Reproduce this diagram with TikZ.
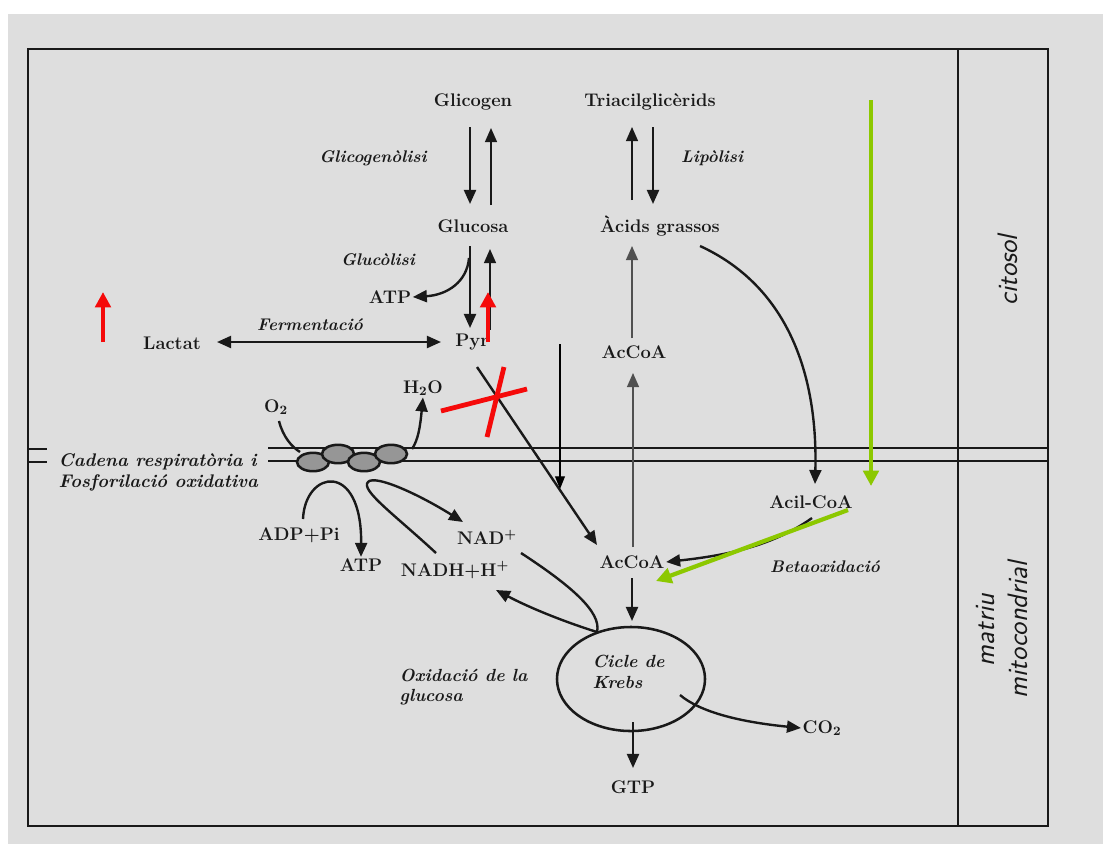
\documentclass[tikz,border=0pt]{standalone}
\usetikzlibrary{arrows.meta,shapes.geometric}
\definecolor{bg}{RGB}{222,222,222}
\definecolor{ink}{RGB}{25,25,25}
\definecolor{midgray}{RGB}{80,80,80}
\definecolor{cellfill}{RGB}{150,150,150}
\definecolor{redmark}{RGB}{245,10,10}
\definecolor{greenmark}{RGB}{140,200,0}
\begin{document}
\begin{tikzpicture}[x=0.025cm,y=-0.025cm,
  lbl/.style={font=\fontsize{13}{15}\selectfont\bfseries, text=ink, inner sep=1pt},
  itl/.style={font=\fontsize{12}{14}\selectfont\bfseries\itshape, text=ink, inner sep=1pt},
  side/.style={font=\fontsize{20}{24}\selectfont\sffamily\itshape, text=ink, rotate=90, align=center, inner sep=0pt},
  arr/.style={draw=ink, line width=1.7pt, -{Triangle[length=10pt,width=8.5pt]}},
  larr/.style={draw=ink, line width=1.1pt, -{Triangle[length=10pt,width=8.5pt]}},
  garr/.style={draw=midgray, line width=1.1pt, -{Triangle[length=10pt,width=8.5pt]}},
  plain/.style={draw=ink, line width=1.7pt},
  thinarr/.style={draw=black, line width=0.9pt, -{Triangle[length=9pt,width=7pt]}},
  redarr/.style={draw=redmark, line width=3.4pt, -{Triangle[length=11pt,width=11pt]}},
  redline/.style={draw=redmark, line width=3.4pt},
  greenarr/.style={draw=greenmark, line width=3pt, -{Triangle[length=11pt,width=11pt]}},
  frame/.style={draw=ink, line width=1.8pt},
  cell/.style={draw=ink, line width=1.8pt, fill=cellfill}
]
\useasboundingbox (0,0) rectangle (1103,844);
\fill[white] (0,0) rectangle (1103,844);
\fill[bg] (8,14) rectangle (1103,844);

% frame
\draw[frame] (28,49) rectangle (1048,826);
\draw[draw=ink, line width=1.1pt] (958,49) -- (958,826);

% membrane
\draw[frame] (268,448) -- (1048,448);
\draw[frame] (268,461) -- (1048,461);
\draw[frame] (28,449) -- (47,449);
\draw[frame] (28,462) -- (47,462);

% text nodes
\node[lbl] (glicogen) at (473,102) {Glicogen};
\node[lbl] (triacil) at (650,102) {Triacilglicèrids};
\node[itl] (glicogenolisi) at (373,158) {Glicogenòlisi};
\node[itl] (lipolisi) at (712,158) {Lipòlisi};
\node[lbl] (glucosa) at (473,226) {Glucosa};
\node[lbl] (acids) at (660,226) {Àcids grassos};
\node[itl] (glucolisi) at (378,260) {Glucòlisi};
\node[lbl] (atpa) at (390,297) {ATP};
\node[lbl] (lactat) at (172,343) {Lactat};
\node[itl] (ferment) at (310,325) {Fermentació};
\node[lbl] (pyr) at (472,342) {Pyr};
\node[lbl] (h2o) at (423,388) {H\textsubscript{2}O};
\node[lbl] (o2) at (276,407) {O\textsubscript{2}};
\node[lbl] (acoaup) at (634,352) {AcCoA};
\node[lbl] (acil) at (811,502) {Acil-CoA};
\node[itl] (beta) at (825,567) {Betaoxidació};
\node[lbl] (acoadown) at (632,562) {AcCoA};
\node[itl, font=\fontsize{13}{15}\selectfont\bfseries\itshape, anchor=west, align=left] (cadena) at (57,472) {Cadena respiratòria i\\Fosforilació oxidativa};
\node[lbl] (adp) at (299,535) {ADP+Pi};
\node[lbl] (atpb) at (361,565) {ATP};
\node[lbl] (nad) at (487,537) {NAD\textsuperscript{+}};
\node[lbl] (nadh) at (455,570) {NADH+H\textsuperscript{+}};
\node[ellipse, draw=ink, line width=1.8pt, minimum width=3.7cm, minimum height=2.6cm, inner sep=0pt] (krebs) at (631,679) {};
\node[itl, font=\fontsize{12.5}{14.5}\selectfont\bfseries\itshape, anchor=west, align=left] (krebstxt) at (591,672) {Cicle de\\Krebs};
\node[itl, font=\fontsize{12.5}{14.5}\selectfont\bfseries\itshape, anchor=west, align=left] (oxid) at (398,687) {Oxidació de la\\glucosa};
\node[lbl] (co2) at (822,728) {CO\textsubscript{2}};
\node[lbl] (gtp) at (633,787) {GTP};
\node[side] (citosol) at (1008,270) {citosol};
\node[side] (matriu) at (1002,630) {matriu\\mitocondrial};

% respiratory chain complexes
\draw[cell] (313,462) ellipse [x radius=0.4cm, y radius=0.23cm];
\draw[cell] (338,454) ellipse [x radius=0.4cm, y radius=0.23cm];
\draw[cell] (364,462) ellipse [x radius=0.4cm, y radius=0.23cm];
\draw[cell] (391,454) ellipse [x radius=0.4cm, y radius=0.23cm];
\coordinate (chainL) at (300,452);
\coordinate (chainR) at (412,449);

% glycogen <-> glucose
\coordinate (g1s) at (470,127); \coordinate (g1e) at (470,204);
\coordinate (g2s) at (491,205); \coordinate (g2e) at (491,128);
\draw[arr] (g1s) -- (g1e);
\draw[larr] (g2s) -- (g2e);
% triacilglicerids <-> acids
\coordinate (t1s) at (632,200); \coordinate (t1e) at (632,127);
\coordinate (t2s) at (653,127); \coordinate (t2e) at (653,204);
\draw[larr] (t1s) -- (t1e);
\draw[arr] (t2s) -- (t2e);
% glucose <-> pyr
\coordinate (p1s) at (470,246); \coordinate (p1e) at (470,328);
\coordinate (p2s) at (490,330); \coordinate (p2e) at (490,249);
\draw[arr] (p1s) -- (p1e);
\draw[larr] (p2s) -- (p2e);
\coordinate (atpbranch) at (469,258);
\draw[arr] (atpbranch) .. controls (467,282) and (447,295) .. (atpa.east);
% lactat <-> pyr
\coordinate (la) at (217,342);
\coordinate (lb) at (441,342);
\draw[draw=ink, line width=1.7pt, {Triangle[length=10pt,width=8.5pt]}-{Triangle[length=10pt,width=8.5pt]}] (la) -- (lb);
% pyr -> mitochondrial AcCoA
\coordinate (pyrout) at (477,367);
\coordinate (acoain) at (597,545);
\draw[arr] (pyrout) -- (acoain);
% O2 and H2O
\coordinate (o2s) at (279,421);
\draw[plain] (o2s) .. controls (283,437) and (292,447) .. (chainL);
\draw[arr] (chainR) .. controls (418,440) and (420,428) .. (h2o.south);
% ADP -> ATP
\coordinate (adpt) at (303,519);
\draw[arr] (adpt) .. controls (305,470) and (362,460) .. (atpb.north);
% NADH -> NAD+
\coordinate (nadhs) at (436,553);
\coordinate (nadt) at (463,522);
\draw[arr] (nadhs) .. controls (395,515) and (360,490) .. (368,482) .. controls (375,474) and (420,495) .. (nadt);
% NAD+ / NADH with Krebs
\coordinate (nadk) at (521,553);
\coordinate (kin) at (597,632);
\coordinate (nadhtip) at (496,590);
\draw[plain] (nadk) .. controls (570,585) and (602,612) .. (kin);
\draw[arr] (kin) .. controls (565,622) and (530,608) .. (nadhtip);
% AcCoA vertical column
\coordinate (au) at (632,338);
\coordinate (ae) at (632,246);
\draw[garr] (au) -- (ae);
\coordinate (ad1) at (633,547);
\coordinate (ad2) at (633,373);
\draw[garr] (ad1) -- (ad2);
% acids -> acil-CoA
\coordinate (acidsout) at (700,246);
\coordinate (aciltop) at (815,484);
\draw[arr] (acidsout) .. controls (785,285) and (818,370) .. (aciltop);
% acil-CoA -> AcCoA
\coordinate (acilout) at (812,518);
\draw[arr] (acilout) .. controls (770,548) and (720,556) .. (acoadown.east);
% AcCoA -> Krebs -> GTP, CO2
\coordinate (kk1) at (632,578); \coordinate (kk2) at (632,621);
\draw[arr] (kk1) -- (kk2);
\coordinate (kg1) at (633,722); \coordinate (kg2) at (633,768);
\draw[arr] (kg1) -- (kg2);
\coordinate (kco) at (680,695);
\draw[arr] (kco) .. controls (700,712) and (740,722) .. (co2.west);

% annotations
\coordinate (thin1) at (560,344); \coordinate (thin2) at (560,489);
\draw[thinarr] (thin1) -- (thin2);
\coordinate (r1s) at (103,342); \coordinate (r1e) at (103,292);
\draw[redarr] (r1s) -- (r1e);
\coordinate (r2s) at (488,342); \coordinate (r2e) at (488,292);
\draw[redarr] (r2s) -- (r2e);
\coordinate (x1a) at (441,411); \coordinate (x1b) at (527,389);
\coordinate (x2a) at (504,367); \coordinate (x2b) at (487,437);
\draw[redline] (x1a) -- (x1b);
\draw[redline] (x2a) -- (x2b);
\coordinate (gv1) at (871,100); \coordinate (gv2) at (871,486);
\draw[greenarr] (gv1) -- (gv2);
\coordinate (gd1) at (848,510); \coordinate (gd2) at (656,581);
\draw[greenarr] (gd1) -- (gd2);
\end{tikzpicture}
\end{document}
